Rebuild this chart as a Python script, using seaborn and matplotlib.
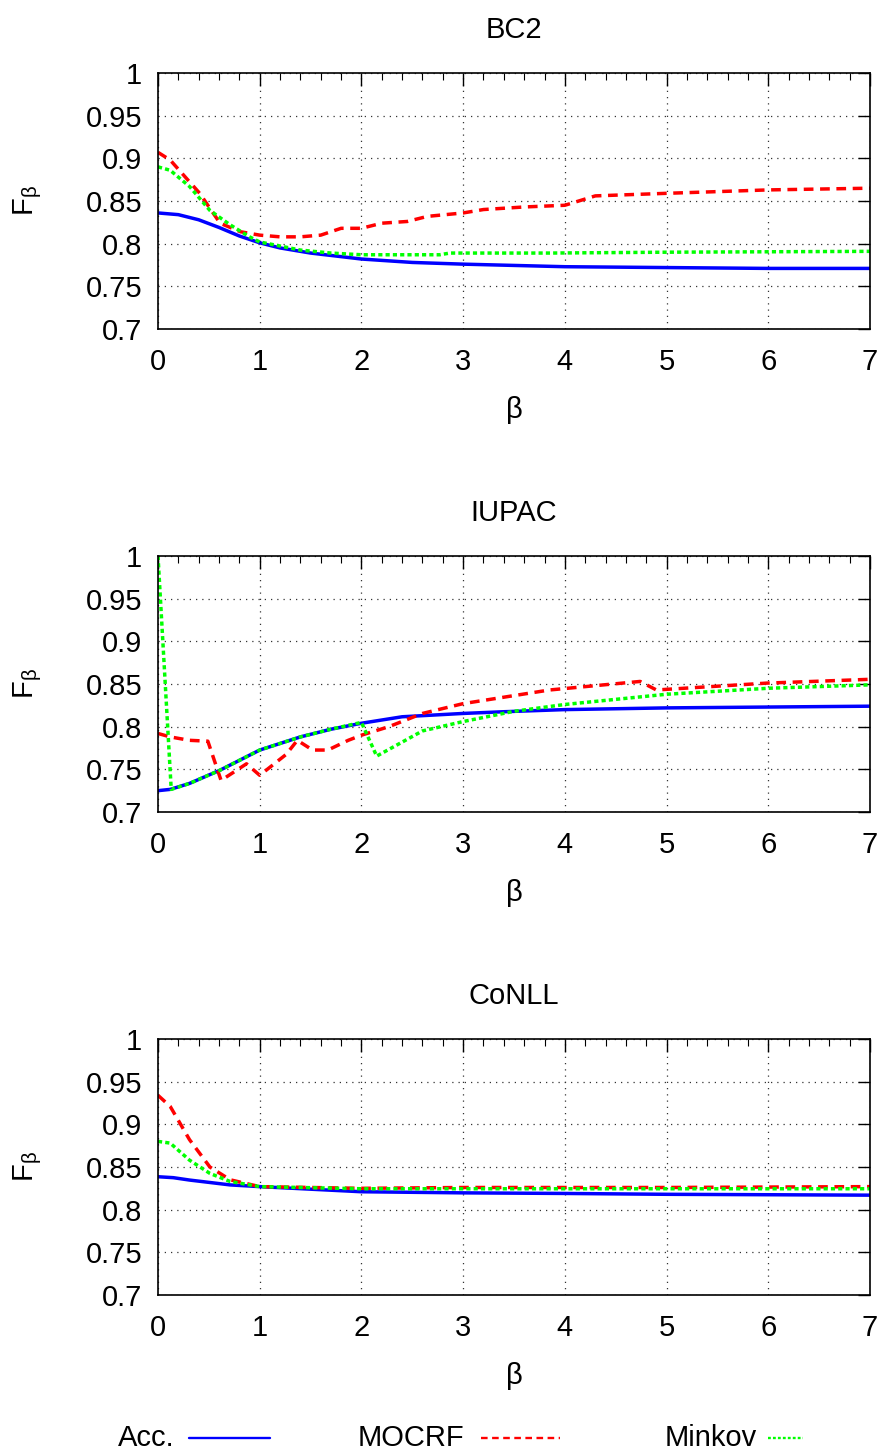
import matplotlib
matplotlib.use("Agg")
import matplotlib.pyplot as plt
from matplotlib.lines import Line2D
from matplotlib.ticker import MultipleLocator, FormatStrFormatter
import seaborn as sns
import pandas as pd

# ---- BC2 ----
bc2_acc_x = [0, 0.2, 0.4, 0.6, 0.8, 1.0, 1.2, 1.5, 2.0, 2.5, 3.0, 4.0, 5.0, 6.0, 7.0]
bc2_acc_y = [0.836, 0.834, 0.828, 0.819, 0.809, 0.801, 0.795, 0.789, 0.782, 0.778, 0.776, 0.773, 0.772, 0.771, 0.771]
bc2_mocrf_x = [0, 0.12, 0.41, 0.61, 0.81, 1.0, 1.2, 1.4, 1.6, 1.8, 2.0, 2.2, 2.45, 2.65, 3.0, 3.2, 3.6, 4.0, 4.3, 5.0, 6.0, 7.0]
bc2_mocrf_y = [0.907, 0.898, 0.859, 0.824, 0.814, 0.810, 0.808, 0.808, 0.810, 0.818, 0.818, 0.824, 0.826, 0.832, 0.836, 0.840, 0.843, 0.845, 0.856, 0.859, 0.863, 0.865]
bc2_mink_x = [0, 0.12, 0.31, 0.51, 0.71, 0.9, 1.0, 1.4, 1.7, 2.0, 2.77, 2.87, 3.85, 5.0, 7.0]
bc2_mink_y = [0.890, 0.886, 0.867, 0.839, 0.822, 0.808, 0.802, 0.7925, 0.789, 0.787, 0.787, 0.789, 0.789, 0.790, 0.791]

# ---- IUPAC ----
iupac_acc_x = [0, 0.12, 0.31, 0.61, 1.0, 1.4, 1.7, 2.0, 2.4, 3.0, 3.4, 4.0, 5.0, 6.0, 7.0]
iupac_acc_y = [0.725, 0.7265, 0.7335, 0.749, 0.7726, 0.788, 0.797, 0.804, 0.8116, 0.8155, 0.8175, 0.820, 0.822, 0.823, 0.824]
iupac_mocrf_x = [0, 0.12, 0.31, 0.49, 0.62, 0.87, 1.0, 1.26, 1.37, 1.52, 1.67, 1.87, 2.0, 2.27, 2.6, 3.0, 3.85, 4.74, 4.9, 5.98, 7.0]
iupac_mocrf_y = [0.792, 0.788, 0.784, 0.783, 0.737, 0.7565, 0.743, 0.7675, 0.784, 0.7726, 0.7726, 0.784, 0.790, 0.800, 0.8155, 0.827, 0.843, 0.853, 0.843, 0.851, 0.8555]
iupac_mink_x = [0, 0.13, 0.31, 0.61, 1.0, 1.4, 1.7, 2.0, 2.15, 2.6, 3.0, 3.5, 4.0, 5.0, 6.0, 7.0]
iupac_mink_y = [1.0, 0.7265, 0.7335, 0.749, 0.7726, 0.788, 0.797, 0.805, 0.7655, 0.795, 0.806, 0.818, 0.826, 0.838, 0.845, 0.849]

# ---- CoNLL ----
conll_acc_x = [0, 0.15, 0.31, 0.71, 1.0, 2.0, 3.0, 4.0, 5.0, 6.0, 7.0]
conll_acc_y = [0.8386, 0.8375, 0.8347, 0.829, 0.827, 0.821, 0.8197, 0.819, 0.818, 0.8175, 0.817]
conll_mocrf_x = [0, 0.12, 0.31, 0.51, 0.71, 1.0, 2.0, 3.0, 5.0, 7.0]
conll_mocrf_y = [0.934, 0.921, 0.882, 0.850, 0.835, 0.827, 0.825, 0.826, 0.826, 0.827]
conll_mink_x = [0, 0.12, 0.31, 0.51, 0.71, 1.0, 2.0, 7.0]
conll_mink_y = [0.880, 0.878, 0.858, 0.8425, 0.833, 0.827, 0.8245, 0.8245]

titles = ["BC2", "IUPAC", "CoNLL"]
series_names = ["Acc.", "MOCRF", "Minkov"]
y_ticks = [0.7, 0.75, 0.8, 0.85, 0.9, 0.95, 1.0]
x_ticks = [0, 1, 2, 3, 4, 5, 6, 7]

panels = [
    [(bc2_acc_x, bc2_acc_y), (bc2_mocrf_x, bc2_mocrf_y), (bc2_mink_x, bc2_mink_y)],
    [(iupac_acc_x, iupac_acc_y), (iupac_mocrf_x, iupac_mocrf_y), (iupac_mink_x, iupac_mink_y)],
    [(conll_acc_x, conll_acc_y), (conll_mocrf_x, conll_mocrf_y), (conll_mink_x, conll_mink_y)],
]

sns.set_theme(style="white")
plt.rcParams["font.family"] = ["Liberation Sans", "DejaVu Sans"]
plt.rcParams["mathtext.fontset"] = "custom"
plt.rcParams["mathtext.rm"] = "Liberation Sans"
plt.rcParams["mathtext.it"] = "Liberation Sans"

FS = 21
LW = 2.5
styles = [
    dict(color="#0000ff", linestyle="-"),
    dict(color="#ff0000", linestyle=(0, (2.8, 1.9))),
    dict(color="#00ff00", linestyle=(0, (1.2, 0.9))),
]

fig = plt.figure(figsize=(8.84, 14.55), dpi=100)
W, H = 884, 1455
left, right = 158, 870
tops = [73, 556, 1039]
panel_h = 256

for title, series, top in zip(titles, panels, tops):
    ax = fig.add_axes([left / W, 1 - (top + panel_h) / H, (right - left) / W, panel_h / H])
    for name, (xs, ys), st in zip(series_names, series, styles):
        df = pd.DataFrame({"beta": xs, "F": ys})
        sns.lineplot(data=df, x="beta", y="F", ax=ax, sort=False, estimator=None,
                     lw=LW, legend=False, **st)
    ax.set_xlim(0, 7)
    ax.set_ylim(0.7, 1.0)
    ax.set_xticks(x_ticks)
    ax.set_yticks(y_ticks)
    ax.xaxis.set_minor_locator(MultipleLocator(0.2))
    ax.yaxis.set_major_formatter(FormatStrFormatter("%g"))
    ax.tick_params(which="both", direction="in", top=True, right=True, color="black",
                   labelsize=FS, labelcolor="black")
    ax.tick_params(which="major", length=9, width=1.0)
    ax.tick_params(which="minor", length=5, width=0.8)
    ax.tick_params(axis="x", which="major", pad=14)
    ax.tick_params(axis="y", which="major", pad=11.5)
    ax.grid(True, which="major", color="#333333", linestyle=(0, (1, 4)), linewidth=0.9)
    for sp in ax.spines.values():
        sp.set_color("black")
        sp.set_linewidth(1.2)
        sp.set_visible(True)
    ax.set_title(title, fontsize=FS, pad=25, color="black")
    ax.set_xlabel("β", fontsize=FS, labelpad=14, color="black")
    ax.set_ylabel(r"F$_{\mathrm{β}}$", fontsize=FS, labelpad=30, color="black")

# key row along the bottom: label text followed by a line sample
key_y = 1 - 1438 / H
key_items = [
    ("Acc.", 118, 189, 270),
    ("MOCRF", 358, 481, 560),
    ("Minkov", 665, 768, 803),
]
for (name, tx, l0, l1), st in zip(key_items, styles):
    fig.text(tx / W, key_y, name, fontsize=FS, va="center", ha="left", color="black")
    fig.add_artist(Line2D([l0 / W, l1 / W], [key_y, key_y], transform=fig.transFigure,
                          lw=1.7, **st))

fig.savefig("out.png", dpi=100)
